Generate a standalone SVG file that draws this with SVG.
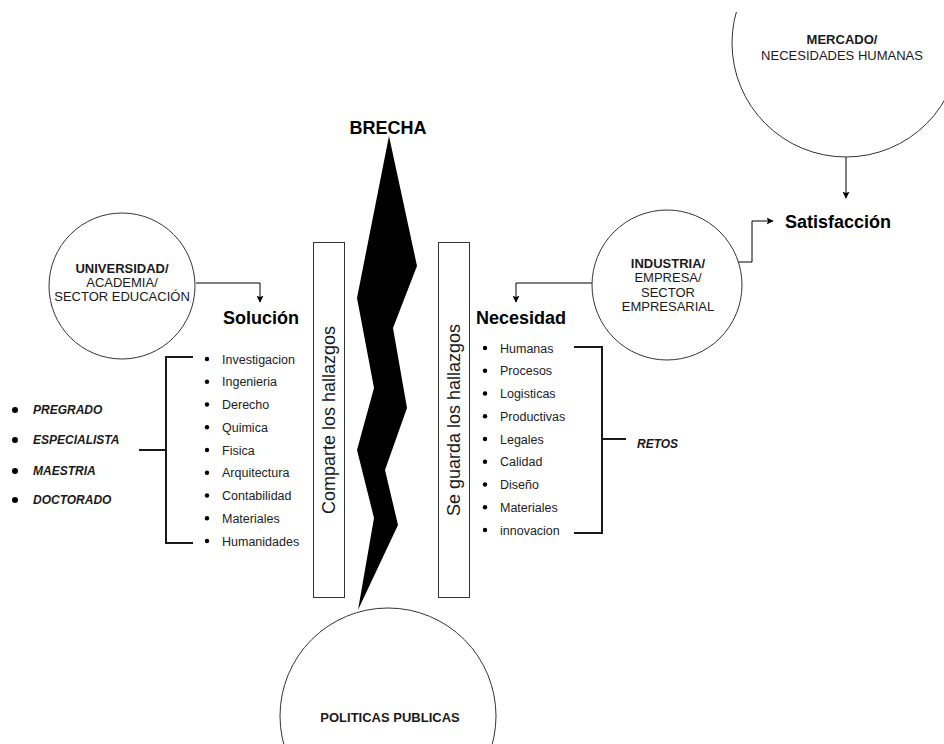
<svg xmlns="http://www.w3.org/2000/svg" width="944" height="744" viewBox="0 0 944 744">
<style>
.circ{fill:#fff;stroke:#333;stroke-width:1}
.box{fill:#fff;stroke:#333;stroke-width:1}
.conn{fill:none;stroke:#000;stroke-width:1}
.brk{fill:none;stroke:#1a1a1a;stroke-width:2}
.nt{font-family:"Liberation Sans",Arial,sans-serif;font-size:13px;fill:#1a1a1a;text-anchor:middle}
.b{font-weight:bold}
.h{font-family:"Liberation Sans",Arial,sans-serif;font-size:18px;font-weight:bold;fill:#000}
.li{font-family:"Liberation Sans",Arial,sans-serif;font-size:12.5px;fill:#222}
.lv{font-family:"Liberation Sans",Arial,sans-serif;font-size:12px;font-weight:bold;font-style:italic;fill:#1a1a1a}
.rt{font-family:"Liberation Sans",Arial,sans-serif;font-size:18px;fill:#1a1a1a;text-anchor:middle}
.dot{fill:#000}
</style>
<defs>
<marker id="arr" viewBox="0 0 10 10" refX="9" refY="5" markerWidth="7" markerHeight="7" markerUnits="userSpaceOnUse" orient="auto">
<path d="M0,0 L10,5 L0,10 L2,5 Z" fill="#000"/>
</marker>
<clipPath id="topclip"><rect x="0" y="12" width="944" height="732"/></clipPath>
</defs>
<rect width="944" height="744" fill="#fff"/>

<g id="connectors">
<path class="conn" d="M196,283 H260 V302" marker-end="url(#arr)"/>
<path class="conn" d="M592,283 H516 V302" marker-end="url(#arr)"/>
<path class="conn" d="M846,157 V198" marker-end="url(#arr)"/>
<path class="conn" d="M737,262 H752 V221 H773" marker-end="url(#arr)"/>
</g>

<g id="mercado">
<circle class="circ" cx="846" cy="43" r="114" clip-path="url(#topclip)"/>
<text class="nt b" x="842" y="43.5">MERCADO/</text>
<text class="nt" x="842" y="59.5">NECESIDADES HUMANAS</text>
</g>

<g id="satisfaccion">
<text class="h" x="785" y="228">Satisfacción</text>
</g>

<g id="brecha">
<text class="h" x="388" y="134" text-anchor="middle">BRECHA</text>
<polygon points="389,136 417,266 393,328 407,408 385,470 398,525 358,610 374,518 357,450 374,388 357,298" fill="#000"/>
</g>

<g id="universidad">
<circle class="circ" cx="122" cy="286" r="73"/>
<text class="nt b" x="122" y="272.5">UNIVERSIDAD/</text>
<text class="nt" x="122" y="286.5">ACADEMIA/</text>
<text class="nt" x="122" y="300.5">SECTOR EDUCACIÓN</text>
</g>

<g id="industria">
<circle class="circ" cx="667" cy="285" r="75"/>
<text class="nt b" x="668" y="267.5">INDUSTRIA/</text>
<text class="nt" x="668" y="282">EMPRESA/</text>
<text class="nt" x="668" y="296.5">SECTOR</text>
<text class="nt" x="668" y="310.5">EMPRESARIAL</text>
</g>

<g id="politicas">
<circle class="circ" cx="388" cy="716" r="108"/>
<text class="nt b" x="390" y="721.5">POLITICAS PUBLICAS</text>
</g>

<g id="comparte">
<rect class="box" x="313.5" y="242.5" width="31" height="355"/>
<text class="rt" transform="translate(335,420) rotate(-90)">Comparte los hallazgos</text>
</g>

<g id="guarda">
<rect class="box" x="438.5" y="242.5" width="31" height="355"/>
<text class="rt" transform="translate(460,420) rotate(-90)">Se guarda los hallazgos</text>
</g>

<g id="solucion">
<text class="h" x="223" y="324">Solución</text>
</g>

<g id="necesidad">
<text class="h" x="476" y="324">Necesidad</text>
</g>

<g id="lista-solucion">
<circle class="dot" cx="207" cy="359" r="2.2"/><text class="li" x="222" y="363.5">Investigacion</text>
<circle class="dot" cx="207" cy="381.75" r="2.2"/><text class="li" x="222" y="386.25">Ingenieria</text>
<circle class="dot" cx="207" cy="404.5" r="2.2"/><text class="li" x="222" y="409">Derecho</text>
<circle class="dot" cx="207" cy="427.25" r="2.2"/><text class="li" x="222" y="431.75">Quimica</text>
<circle class="dot" cx="207" cy="450" r="2.2"/><text class="li" x="222" y="454.5">Fisica</text>
<circle class="dot" cx="207" cy="472.75" r="2.2"/><text class="li" x="222" y="477.25">Arquitectura</text>
<circle class="dot" cx="207" cy="495.5" r="2.2"/><text class="li" x="222" y="500">Contabilidad</text>
<circle class="dot" cx="207" cy="518.25" r="2.2"/><text class="li" x="222" y="522.75">Materiales</text>
<circle class="dot" cx="207" cy="541" r="2.2"/><text class="li" x="222" y="545.5">Humanidades</text>
</g>

<g id="bracket-solucion">
<path class="brk" d="M193,357 H166 V543 H193 M166,450 H139"/>
</g>

<g id="niveles">
<circle class="dot" cx="15" cy="410" r="3"/><text class="lv" x="33" y="414">PREGRADO</text>
<circle class="dot" cx="15" cy="440" r="3"/><text class="lv" x="33" y="444">ESPECIALISTA</text>
<circle class="dot" cx="15" cy="471" r="3"/><text class="lv" x="33" y="475">MAESTRIA</text>
<circle class="dot" cx="15" cy="500" r="3"/><text class="lv" x="33" y="504">DOCTORADO</text>
</g>

<g id="lista-necesidad">
<circle class="dot" cx="485" cy="348" r="2.2"/><text class="li" x="500" y="352.5">Humanas</text>
<circle class="dot" cx="485" cy="370.75" r="2.2"/><text class="li" x="500" y="375.25">Procesos</text>
<circle class="dot" cx="485" cy="393.5" r="2.2"/><text class="li" x="500" y="398">Logisticas</text>
<circle class="dot" cx="485" cy="416.25" r="2.2"/><text class="li" x="500" y="420.75">Productivas</text>
<circle class="dot" cx="485" cy="439" r="2.2"/><text class="li" x="500" y="443.5">Legales</text>
<circle class="dot" cx="485" cy="461.75" r="2.2"/><text class="li" x="500" y="466.25">Calidad</text>
<circle class="dot" cx="485" cy="484.5" r="2.2"/><text class="li" x="500" y="489">Diseño</text>
<circle class="dot" cx="485" cy="507.25" r="2.2"/><text class="li" x="500" y="511.75">Materiales</text>
<circle class="dot" cx="485" cy="530" r="2.2"/><text class="li" x="500" y="534.5">innovacion</text>
</g>

<g id="bracket-necesidad">
<path class="brk" d="M574,347 H602 V533 H574 M602,439 H626"/>
</g>

<g id="retos">
<text class="lv" x="637" y="448">RETOS</text>
</g>
</svg>
